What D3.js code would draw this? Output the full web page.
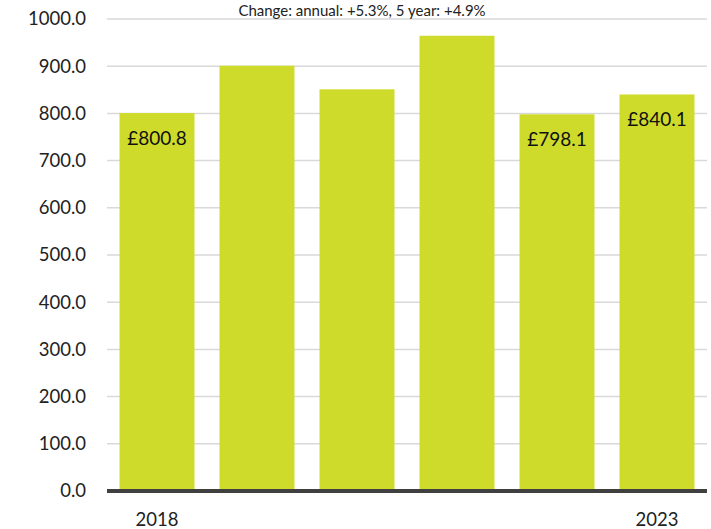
<!DOCTYPE html>
<html>
<head>
<meta charset="utf-8">
<script src="https://cdn.jsdelivr.net/npm/d3@7"></script>
<style>
    body { margin: 0; background: #fff; }
    svg { display: block; font-family: Lato, 'Open Sans', sans-serif; }
</style>
</head>
<body>
<div id="chart"></div>
<script>
const years = ['2018', '2019', '2020', '2021', '2022', '2023'];
const values = [800.8, 901.0, 851.0, 964.5, 798.1, 840.1];
const shownLabels = ['£800.8', '', '', '', '£798.1', '£840.1'];
const tickLabels = ['2018', '', '', '', '', '2023'];
const yTicks = [0, 100, 200, 300, 400, 500, 600, 700, 800, 900, 1000];
const titleText = 'Change: annual: +5.3%, 5 year: +4.9%';

const W = 711, H = 529;
const margin = { top: 19, right: 4, bottom: 38, left: 107 };
const width = W - margin.left - margin.right;
const height = H - margin.top - margin.bottom;

const svg = d3.select('#chart')
    .append('svg')
    .attr('width', W)
    .attr('height', H);

const g = svg.append('g')
    .attr('transform', `translate(${margin.left},${margin.top})`);

const x = d3.scaleBand()
    .domain(years)
    .range([0, width])
    .paddingInner(0.25)
    .paddingOuter(0.125);

const y = d3.scaleLinear()
    .domain([0, 1000])
    .range([height, 0]);

// gridlines
g.selectAll('.grid')
    .data(yTicks)
    .enter()
    .append('line')
    .attr('x1', 0)
    .attr('x2', width)
    .attr('y1', d => y(d))
    .attr('y2', d => y(d))
    .attr('stroke', '#d9d9d9')
    .attr('stroke-width', 1.5);

// y tick labels
g.selectAll('.ytick')
    .data(yTicks)
    .enter()
    .append('text')
    .attr('x', -21)
    .attr('y', d => y(d))
    .attr('dy', '0.35em')
    .attr('text-anchor', 'end')
    .style('font-size', '18.5px')
    .style('fill', '#222')
    .text(d => d.toFixed(1));

// bars
g.selectAll('.bar')
    .data(values)
    .enter()
    .append('rect')
    .attr('x', (d, i) => x(years[i]))
    .attr('y', d => y(d))
    .attr('width', x.bandwidth())
    .attr('height', d => height - y(d))
    .attr('fill', '#cfdb2a');

// value labels inside bars
g.selectAll('.vlabel')
    .data(values)
    .enter()
    .append('text')
    .attr('x', (d, i) => x(years[i]) + x.bandwidth() / 2)
    .attr('y', d => y(d) + 32)
    .attr('text-anchor', 'middle')
    .style('font-size', '19px')
    .style('fill', '#111')
    .text((d, i) => shownLabels[i]);

// baseline
g.append('line')
    .attr('x1', 0)
    .attr('x2', width)
    .attr('y1', y(0))
    .attr('y2', y(0))
    .attr('stroke', '#404040')
    .attr('stroke-width', 4);

// x labels
g.selectAll('.xlabel')
    .data(years)
    .enter()
    .append('text')
    .attr('x', d => x(d) + x.bandwidth() / 2)
    .attr('y', height + 35)
    .attr('text-anchor', 'middle')
    .style('font-size', '18.5px')
    .style('fill', '#222')
    .text((d, i) => tickLabels[i]);

// title
svg.append('text')
    .attr('x', 362)
    .attr('y', 15.5)
    .attr('text-anchor', 'middle')
    .style('font-size', '15px')
    .style('fill', '#222')
    .text(titleText);
</script>
</body>
</html>
